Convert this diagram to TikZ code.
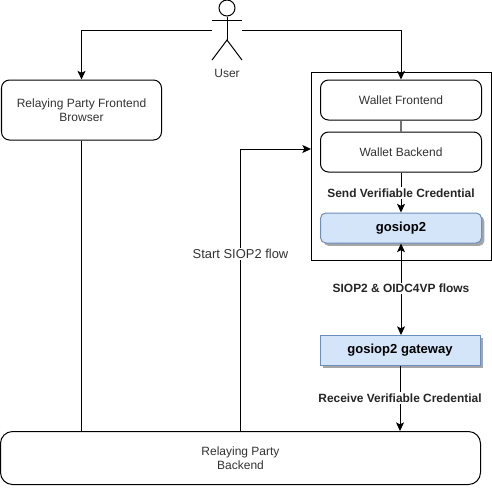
\documentclass[tikz,border=0pt]{standalone}
\usepackage{fontspec}
\setmainfont{Liberation Sans}
\usetikzlibrary{arrows.meta,positioning,calc}
\definecolor{txt}{HTML}{333333}
\definecolor{bluefill}{HTML}{D4E4F9}
\definecolor{blueline}{HTML}{6C8EBF}
\tikzset{
  x=0.75pt,y=-0.75pt,
  every node/.style={font=\fontsize{9}{10.5}\selectfont,text=txt,align=center,inner sep=0pt},
  rbox/.style={draw=black,line width=0.75pt,rounded corners=6pt,fill=white},
  bluebox/.style={draw=blueline,line width=0.75pt,fill=bluefill,text=black,font=\bfseries\fontsize{9.8}{12}\selectfont,
    preaction={draw=none,fill=black!35,transform canvas={shift={(2.2pt,-2.2pt)}}}},
  conn/.style={draw=black,line width=0.75pt,-{Stealth[length=6.5pt,width=6pt,inset=1.5pt]}},
  plainconn/.style={draw=black,line width=0.75pt},
  dimconn/.style={draw=black!55,line width=1pt},
  lab/.style={fill=white,text=txt,inner ysep=1pt,inner xsep=0.5pt},
  blab/.style={lab,font=\bfseries\fontsize{8.95}{12}\selectfont,text=black!85},
  stick/.style={draw=black,line width=0.75pt},
}
\newcommand{\boxat}[6]{\node[#1,minimum width=#4*0.75pt,minimum height=#5*0.75pt] (#2) at (#3) {#6};}
\begin{document}
\begin{tikzpicture}
\useasboundingbox (0,0) rectangle (492,487);
% wallet container
\node[draw=black,line width=0.75pt,fill=white,minimum width=180*0.75pt,minimum height=188*0.75pt] (wallet) at (401.5,166) {};
% boxes
\boxat{rbox}{rpf}{81.5,110}{160}{60}{Relaying Party Frontend\\Browser}
\boxat{rbox}{wf}{401,100}{161}{40}{Wallet Frontend}
\boxat{rbox}{wb}{401,152}{161}{40}{Wallet Backend}
\boxat{bluebox,rounded corners=4pt}{gos}{401,228}{161}{30}{gosiop2}
\node[bluebox,minimum width=160*0.75pt,minimum height=30*0.75pt] (gw) at (400,350.5) {gosiop2 gateway};
\boxat{rbox,rounded corners=9pt}{rpb}{240.5,458}{480}{53}{Relaying Party\\Backend}
% user
\node[draw=black,line width=0.75pt,circle,minimum size=16*0.75pt] (head) at (227,8) {};
\coordinate (armL) at (212,20);
\coordinate (armR) at (242,20);
\coordinate (hip) at (227,40);
\coordinate (legL) at (212,60);
\coordinate (legR) at (242,60);
\coordinate (userL) at (212,30);
\coordinate (userR) at (242,30);
\draw[stick] (armL) -- (armR);
\draw[stick] (head.south) -- (hip);
\draw[stick] (legL) -- (hip) -- (legR);
\node (user) at (227,73) {User};
% connectors
\draw[conn] (userL) -| (rpf.north);
\draw[conn] (userR) -| (wf.north);
\draw[dimconn] (wf.south) -- (wb.north);
\draw[conn] (wb.south) -- node[blab,pos=0.51] {Send Verifiable Credential} (gos.north);
\draw[conn,{Stealth[length=6.5pt,width=6pt,inset=1.5pt]}-{Stealth[length=6.5pt,width=6pt,inset=1.5pt]}] (gos.south) -- node[blab,pos=0.49] {SIOP2 \& OIDC4VP flows} ($(gw.north)+(1,0)$);
\draw[conn] (gw.south) -- node[blab,pos=0.49] {Receive Verifiable Credential} (gw.south |- rpb.north);
\draw[plainconn] (rpf.south) -- (rpf.south |- rpb.north);
\coordinate (bend) at (240.5,149);
\draw[conn] (rpb.north) -- node[lab,pos=0.628,font=\fontsize{9.7}{12}\selectfont] {Start SIOP2 flow} (bend) -- (bend -| wallet.west);
\end{tikzpicture}
\end{document}
